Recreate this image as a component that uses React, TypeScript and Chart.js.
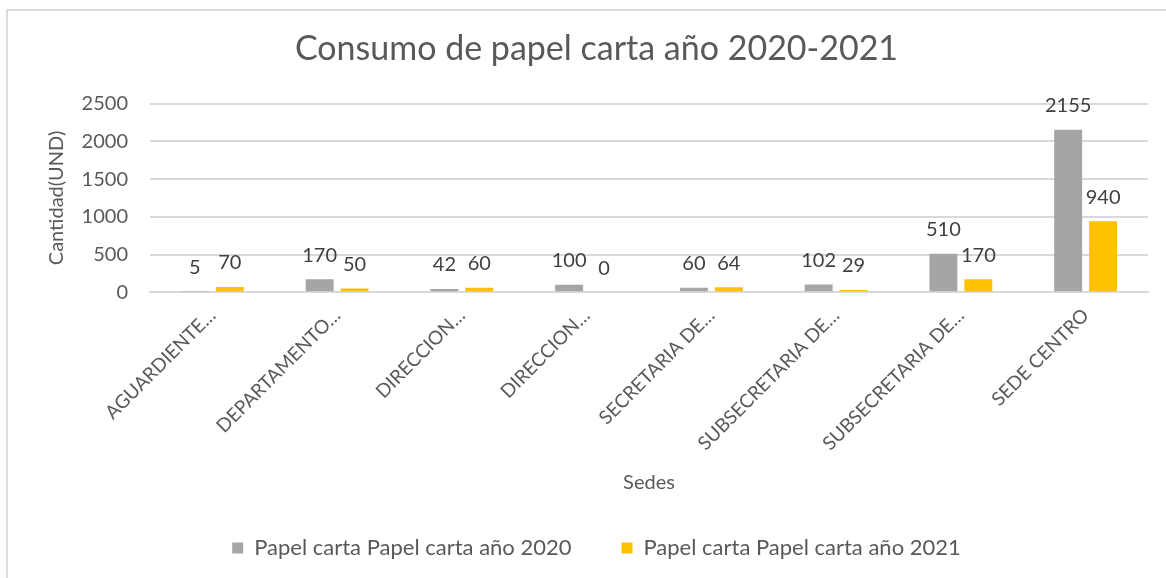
import React, { useEffect, useRef } from "react";
import { Chart, registerables } from "chart.js";

Chart.register(...registerables);

const categories = [
  "AGUARDIENTE…",
  "DEPARTAMENTO…",
  "DIRECCION…",
  "DIRECCION…",
  "SECRETARIA DE…",
  "SUBSECRETARIA DE…",
  "SUBSECRETARIA DE…",
  "SEDE CENTRO",
];
const values2020 = [5, 170, 42, 100, 60, 102, 510, 2155];
const values2021 = [70, 50, 60, 0, 64, 29, 170, 940];
const yTicks = [0, 500, 1000, 1500, 2000, 2500];

const FONT = "Lato, 'Noto Sans', sans-serif";
const TEXT = "#595959";

const valueLabels = {
  id: "valueLabels",
  afterDatasetsDraw(chart: any) {
    const ctx = chart.ctx;
    ctx.save();
    ctx.font = `20px ${FONT}`;
    ctx.fillStyle = "#404040";
    ctx.textAlign = "center";
    ctx.textBaseline = "middle";
    chart.data.datasets.forEach((ds: any, i: number) => {
      const meta = chart.getDatasetMeta(i);
      meta.data.forEach((bar: any, j: number) => {
        ctx.fillText(String(ds.data[j]), bar.x, bar.y - 24);
      });
    });
    ctx.restore();
  },
};

export default function App() {
  const ref = useRef<HTMLCanvasElement>(null);
  useEffect(() => {
    if (!ref.current) return;
    const chart = new Chart(ref.current, {
      type: "bar",
      data: {
        labels: categories,
        datasets: [
          {
            label: "Papel carta Papel carta año 2020",
            data: values2020,
            backgroundColor: "#A5A5A5",
            barPercentage: 0.8,
            categoryPercentage: 0.56,
          },
          {
            label: "Papel carta Papel carta año 2021",
            data: values2021,
            backgroundColor: "#FFC000",
            barPercentage: 0.8,
            categoryPercentage: 0.56,
          },
        ],
      },
      options: {
        responsive: false,
        animation: false,
        layout: { padding: { left: 37, right: 18, top: 0, bottom: 9 } },
        plugins: {
          title: {
            display: true,
            text: "Consumo de papel carta año 2020-2021",
            color: TEXT,
            font: { family: FONT, size: 34, weight: "normal" },
            padding: { top: 18, bottom: 34 },
          },
          legend: {
            position: "bottom",
            labels: {
              color: TEXT,
              font: { family: FONT, size: 22 },
              boxWidth: 11,
              boxHeight: 11,
              padding: 50,
            },
          },
          tooltip: { enabled: false },
        },
        scales: {
          x: {
            grid: { display: false },
            border: { display: true, color: "#D9D9D9", width: 2 },
            ticks: {
              color: TEXT,
              font: { family: FONT, size: 19 },
              maxRotation: 45,
              minRotation: 45,
              autoSkip: false,
              padding: 4,
            },
            afterFit(scale: any) {
              scale.paddingLeft = 0;
            },
            title: {
              display: true,
              text: "Sedes",
              color: TEXT,
              font: { family: FONT, size: 20 },
              padding: { top: 12, bottom: -8 },
            },
          },
          y: {
            min: 0,
            max: 2500,
            afterBuildTicks(axis: any) {
              axis.ticks = yTicks.map((v) => ({ value: v }));
            },
            afterFit(scale: any) {
              scale.width = 105;
            },
            grid: { color: "#D9D9D9", lineWidth: 2, drawTicks: false },
            border: { display: false },
            ticks: {
              color: TEXT,
              font: { family: FONT, size: 20 },
              padding: 22,
              callback: (v: any) => String(v),
            },
            title: {
              display: true,
              text: "Cantidad(UND)",
              color: TEXT,
              font: { family: FONT, size: 20 },
              padding: { top: 0, bottom: 13 },
            },
          },
        },
      },
      plugins: [valueLabels],
    });
    return () => chart.destroy();
  }, []);

  return (
    <>
      <style>{"body{margin:0;overflow:hidden;background:#fff}"}</style>
      <div
        style={{
          position: "absolute",
          left: 6,
          top: 9,
          width: 1200,
          height: 600,
          borderTop: "2px solid #DCDCDC",
          borderLeft: "2px solid #DCDCDC",
        }}
      >
        <canvas
          ref={ref}
          width={1158}
          height={567}
          style={{ position: "absolute", left: 0, top: 0 }}
        />
      </div>
    </>
  );
}
